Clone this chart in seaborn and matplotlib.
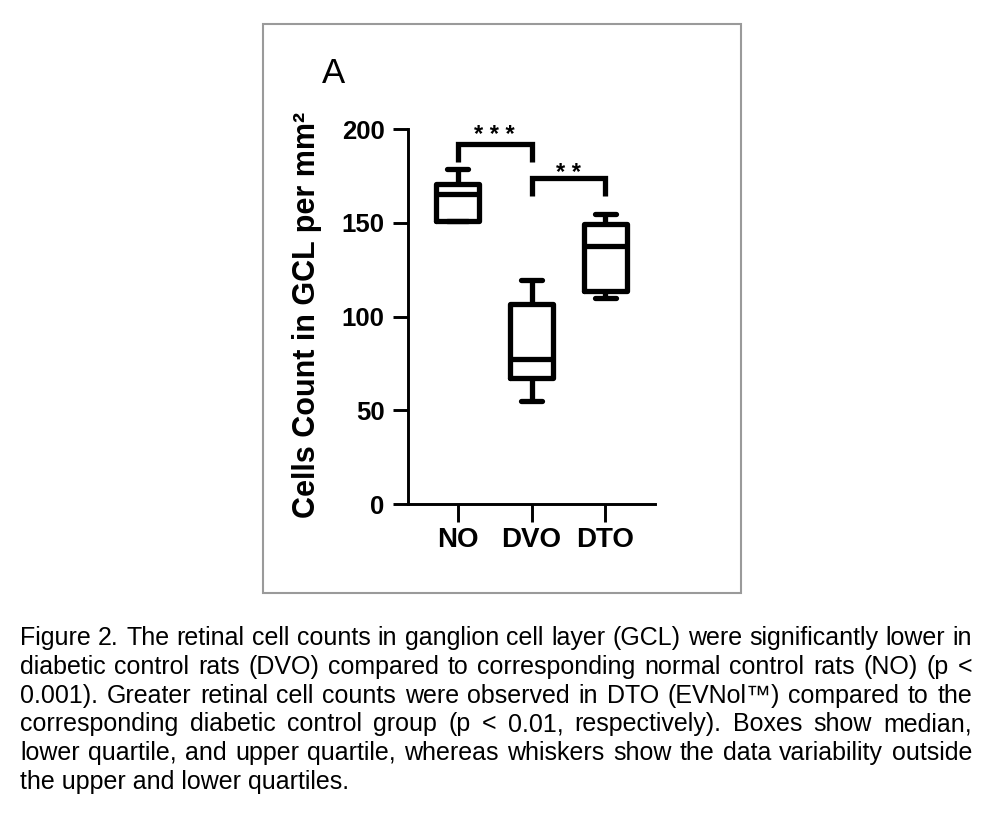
import matplotlib
matplotlib.use("Agg")
import matplotlib.pyplot as plt
import matplotlib.patches as mpatches
import seaborn as sns
import pandas as pd

# ---------------- data ----------------
groups = ["NO", "DVO", "DTO"]
# five values per group: min, Q1, median, Q3, max
no_values = [151.0, 151.2, 165.2, 170.8, 178.6]
dvo_values = [54.8, 67.4, 77.5, 106.7, 119.6]
dto_values = [109.9, 113.7, 137.5, 149.6, 154.7]
y_ticks = [0, 50, 100, 150, 200]

# significance brackets
bracket_pairs = [(0, 1), (1, 2)]
bracket_tops = [192.4, 173.8]
bracket_bottoms = [182.7, 164.3]
bracket_labels = ["* * *", "* *"]
bracket_label_y = [193.0, 172.7]

y_label = "Cells Count in GCL per mm²"
panel_label = "A"
caption_lines = [
    "Figure 2. The retinal cell counts in ganglion cell layer (GCL) were significantly lower in",
    "diabetic control rats (DVO) compared to corresponding normal control rats (NO) (p <",
    "0.001). Greater retinal cell counts were observed in DTO (EVNol\u2122) compared to the",
    "corresponding diabetic control group (p < 0.01, respectively). Boxes show median,",
    "lower quartile, and upper quartile, whereas whiskers show the data variability outside",
    "the upper and lower quartiles.",
]

df = pd.DataFrame({
    "group": [g for g, vals in zip(groups, [no_values, dvo_values, dto_values]) for _ in vals],
    "value": no_values + dvo_values + dto_values,
})

# ---------------- style ----------------
sns.set_theme(style="ticks")
plt.rcParams["font.family"] = ["Liberation Sans", "DejaVu Sans"]

W, H = 1000, 823
fig = plt.figure(figsize=(W / 100, H / 100), dpi=100)
fig.patch.set_facecolor("white")

ax = fig.add_axes([0.408, 0.3876, 0.247, 0.4553])
ax.set_facecolor("white")

LW = 3.8
sns.boxplot(data=df, x="group", y="value", order=groups, ax=ax,
            whis=(0, 100), width=0.58, fill=False, color="black",
            linewidth=LW)

# brackets
for (i, j), top, bot in zip(bracket_pairs, bracket_tops, bracket_bottoms):
    ax.plot([i, i, j, j], [bot, top, top, bot], color="black", lw=LW,
            solid_joinstyle="miter", solid_capstyle="butt", clip_on=False)
for (i, j), lab, ly in zip(bracket_pairs, bracket_labels, bracket_label_y):
    ax.text((i + j) / 2, ly, lab, ha="center", va="baseline", fontsize=17,
            fontweight="bold", color="black", clip_on=False)

ax.set_xlim(-0.673, 2.673)
ax.set_ylim(0, 200)
ax.set_yticks(y_ticks)
ax.set_xlabel("")
ax.set_ylabel("")
for s in ["top", "right"]:
    ax.spines[s].set_visible(False)
for s in ["left", "bottom"]:
    ax.spines[s].set_linewidth(2.1)
    ax.spines[s].set_color("black")
ax.tick_params(axis="y", length=11, width=2.1, pad=6, labelsize=18.5, colors="black")
ax.tick_params(axis="x", length=13, width=2.1, pad=3.5, labelsize=20, colors="black")
for lab in ax.get_xticklabels() + ax.get_yticklabels():
    lab.set_fontweight("bold")

# y label
fig.text(307.5 / W, 1 - 315 / H, y_label, rotation=90, ha="center", va="center",
         fontsize=22, fontweight="bold", color="black")

# panel label
fig.text(334 / W, 1 - 83 / H, panel_label, ha="center", va="baseline",
         fontsize=25, color="black")

# panel frame
fig.patches.append(mpatches.Rectangle((263 / W, 1 - 593 / H), (741 - 263) / W, (593 - 24) / H,
                                      transform=fig.transFigure, fill=False,
                                      edgecolor="#9a9a9a", linewidth=1.5))

# caption, justified
renderer = fig.canvas.get_renderer()
x0, x1 = 20, 972
base0, step = 645, 28.8
cap_kw = dict(fontsize=18, color="black", va="baseline", ha="left")
for k, line in enumerate(caption_lines):
    yb = 1 - (base0 + k * step) / H
    if k == len(caption_lines) - 1:
        fig.text(x0 / W, yb, line, **cap_kw)
        continue
    words = line.split(" ")
    texts = [fig.text(0, yb, w, **cap_kw) for w in words]
    widths = [t.get_window_extent(renderer).width for t in texts]
    gap = (x1 - x0 - sum(widths)) / (len(words) - 1)
    x = x0
    for t, w in zip(texts, widths):
        t.set_position((x / W, yb))
        x += w + gap

fig.savefig("out.png", dpi=100, facecolor="white")
